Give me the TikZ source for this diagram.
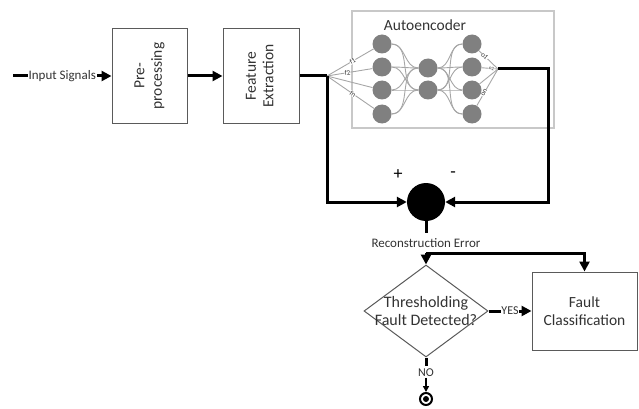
\documentclass[tikz,border=0pt]{standalone}
\usepackage{fontspec}
\setmainfont{Carlito}
\usetikzlibrary{arrows.meta,shapes.geometric,calc}
\definecolor{boxgray}{HTML}{5A5A5A}
\definecolor{aegray}{HTML}{C8C8C8}
\definecolor{neuron}{HTML}{808080}
\definecolor{edgegray}{HTML}{A6A6A6}
\definecolor{txt}{HTML}{333333}
\begin{document}
\begin{tikzpicture}[x=1pt,y=-1pt,
  flow/.style={line width=3pt},
  arr/.style={flow,-{Triangle[length=10pt,width=10pt]}},
  blk/.style={draw=boxgray,line width=1pt,fill=white,inner sep=0pt,text=txt,font=\fontsize{15.5}{17.5}\selectfont,align=center},
  neu/.style={circle,fill=neuron,minimum size=19pt,inner sep=0pt},
  nnedge/.style={draw=edgegray,line width=0.9pt},
  lbl/.style={font=\fontsize{13}{14}\selectfont,text=txt,fill=white,inner sep=0.8pt},
  tinylbl/.style={font=\fontsize{7}{8}\selectfont,text=txt,fill=white,inner sep=0.2pt,sloped}
]
\useasboundingbox (0,0) rectangle (639,409);

% main blocks
\node[blk,minimum width=75pt,minimum height=94pt] (pre) at (149.5,76)
  {\rotatebox{90}{\begin{tabular}{@{}c@{}}Pre-\\processing\end{tabular}}};
\node[blk,minimum width=76pt,minimum height=94pt] (fe) at (261,76)
  {\rotatebox{90}{\begin{tabular}{@{}c@{}}Feature\\Extraction\end{tabular}}};

% autoencoder
\node[draw=aegray,line width=2pt,minimum width=202pt,minimum height=117pt,inner sep=0pt] (ae) at (452.5,69.5) {};
\node[font=\fontsize{15.5}{17}\selectfont,text=txt] (aetitle) at (425,25) {Autoencoder};
\foreach \n/\y in {1/44,2/67,3/90,4/114}{
  \node[neu] (i\n) at (382,\y) {};
  \node[neu] (o\n) at (472,\y) {};
}
\node[neu] (h1) at (428,68) {};
\node[neu] (h2) at (428,90) {};
\foreach \a in {1,2,3,4}{
  \foreach \b in {1,2}{
    \draw[nnedge] (i\a) to[out=0,in=180] (h\b);
    \draw[nnedge] (h\b) to[out=0,in=180] (o\a);
  }
}
\coordinate (fin) at (327,76);
\coordinate (fout) at (498,69);
\draw[nnedge] (fin) -- (i1) node[tinylbl,pos=0.55] {f1};
\draw[nnedge] (fin) -- (i2) node[tinylbl,pos=0.45] {f2};
\draw[nnedge] (fin) -- (i3);
\draw[nnedge] (fin) -- (i4) node[tinylbl,pos=0.55] {fn};
\draw[nnedge] (o1) -- (fout) node[tinylbl,pos=0.3] {o1};
\draw[nnedge] (o2) -- (fout) node[tinylbl,pos=0.6,font=\fontsize{5}{6}\selectfont] {o2};
\draw[nnedge] (o3) -- (fout);
\draw[nnedge] (o4) -- (fout) node[tinylbl,pos=0.35] {on};

% summing junction
\node[circle,fill=black,minimum size=38pt,inner sep=0pt] (sum) at (426,202) {};
\node[font=\fontsize{18}{20}\selectfont] (plus) at (398,175) {+};
\node[font=\fontsize{18}{20}\selectfont] (minus) at (453,175) {-};

% decision
\node[diamond,draw=boxgray,line width=1pt,fill=white,shape aspect=1.35,inner sep=0pt,
      minimum width=124pt,minimum height=92pt,text=txt,font=\fontsize{16}{18}\selectfont,align=center] (dia) at (426,311)
  {\makebox[0pt]{Thresholding}\\\makebox[0pt]{Fault Detected?}};
\node[blk,minimum width=105pt,minimum height=78pt] (fc) at (584.5,311) {Fault\\Classification};

% end symbol
\node[circle,draw=black,line width=2pt,minimum size=12pt,inner sep=0pt,
      path picture={\fill (path picture bounding box.center) circle (3pt);}] (end) at (426,399) {};

% connectors
\coordinate (in) at (13,76);
\draw[arr] (in) -- (pre.west) node[midway,lbl] {Input Signals};
\draw[arr] (pre.east) -- (fe.west);
\draw[flow] (fe.east) -- (fin);
\draw[arr] (fin) |- (sum.west);
\coordinate (rc) at (548,69);
\draw[arr] (fout) -- (rc) |- (sum.east);

\coordinate (r1) at (426,233);
\node[lbl] (rec) at (426,243) {Reconstruction Error};
\coordinate (split) at (426,253);
\draw[flow] (sum.south) -- (r1);
\draw[arr] (split) -- (dia.north);
\draw[arr] (split) -| (fc.north);

\draw[arr] (dia.east) -- (fc.west) node[midway,lbl,font=\fontsize{12}{13}\selectfont] {YES};

\coordinate (n1) at (426,366);
\node[lbl,font=\fontsize{12}{13}\selectfont] (no) at (426,373) {NO};
\draw[flow] (dia.south) -- (n1);
\draw[line width=1.5pt,-{Triangle[length=6pt,width=6pt]}] (no.south) -- (end.north);
\end{tikzpicture}
\end{document}
